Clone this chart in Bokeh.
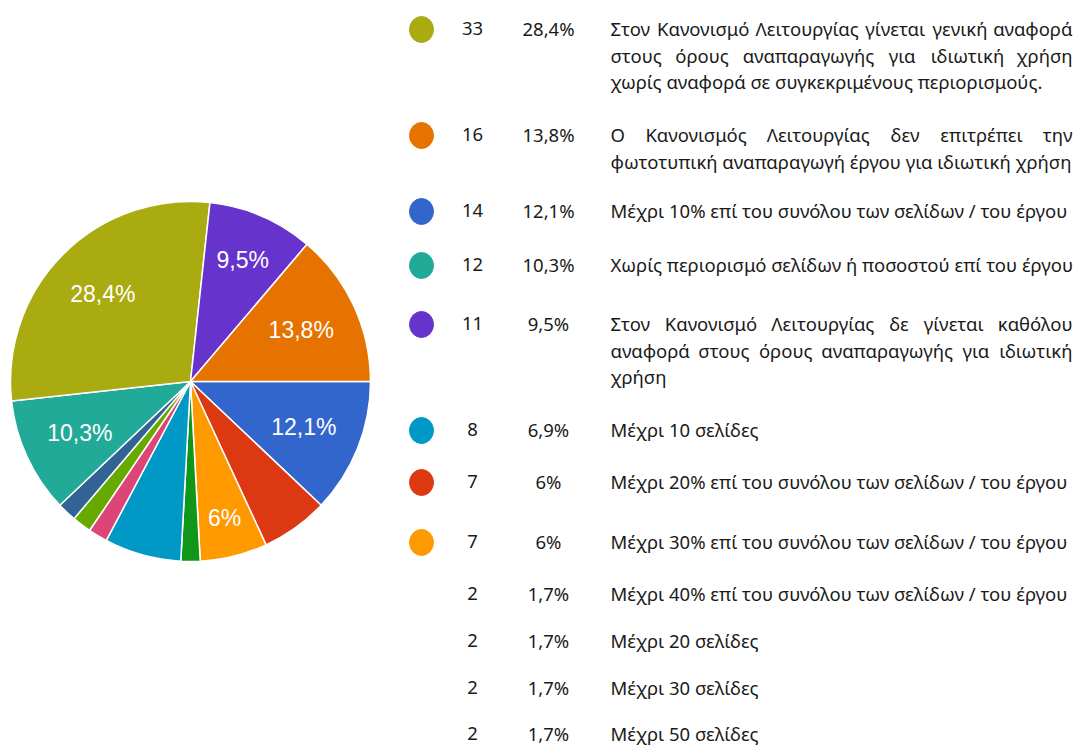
import math
from bokeh.plotting import figure
from bokeh.models import Range1d, ColumnDataSource
from bokeh.core.properties import value
from bokeh.embed import file_html
from bokeh.resources import INLINE

# ---------------- data (form order = pie order, clockwise from 3 o'clock) ----------------
categories = [
    "Μέχρι 10% επί του συνόλου των σελίδων / του έργου",
    "Μέχρι 20% επί του συνόλου των σελίδων / του έργου",
    "Μέχρι 30% επί του συνόλου των σελίδων / του έργου",
    "Μέχρι 40% επί του συνόλου των σελίδων / του έργου",
    "Μέχρι 10 σελίδες",
    "Μέχρι 20 σελίδες",
    "Μέχρι 30 σελίδες",
    "Μέχρι 50 σελίδες",
    "Χωρίς περιορισμό σελίδων ή ποσοστού επί του έργου",
    "Στον Κανονισμό Λειτουργίας γίνεται γενική αναφορά\nστους όρους αναπαραγωγής για ιδιωτική χρήση\nχωρίς αναφορά σε συγκεκριμένους περιορισμούς.",
    "Στον Κανονισμό Λειτουργίας δε γίνεται καθόλου\nαναφορά στους όρους αναπαραγωγής για ιδιωτική\nχρήση",
    "Ο Κανονισμός Λειτουργίας δεν επιτρέπει την\nφωτοτυπική αναπαραγωγή έργου για ιδιωτική χρήση",
]
counts = [14, 7, 7, 2, 8, 2, 2, 2, 12, 33, 11, 16]

# ---------------- styles ----------------
palette = ["#3366CC", "#DC3912", "#FF9900", "#109618", "#0099C6", "#DD4477",
           "#66AA00", "#316395", "#22AA99", "#AAAA11", "#6633CC", "#E67300"]
shown_pie_labels = {0: 122, 2: 141, 8: 122, 9: 124, 10: 132, 11: 122}  # slice -> label radius

W, H = 1075, 745
FONT = "Noto Sans"
FS = 18.5
TXT = "#1a1a1a"

def X(sx):
    return sx

def Y(sy):
    return H - sy

def pct(c, total):
    s = f"{c / total * 100:.1f}"
    s = s.rstrip("0").rstrip(".")
    return s.replace(".", ",") + "%"

total = sum(counts)

p = figure(width=W, height=H, x_range=Range1d(0, W), y_range=Range1d(0, H),
           output_backend="svg", toolbar_location=None, min_border=0,
           x_axis_location=None, y_axis_location=None)
p.grid.visible = False
p.outline_line_color = None
p.background_fill_color = "white"
p.border_fill_color = "white"

# ---------------- pie ----------------
cx, cy, R = X(190), Y(381), 180
starts, ends, lx, ly, ltxt = [], [], [], [], []
acc = 0.0
for i, c in enumerate(counts):
    a0 = acc
    a1 = acc + c / total * 2 * math.pi
    acc = a1
    starts.append(-a1)
    ends.append(-a0)
    if i in shown_pie_labels:
        mid = -(a0 + a1) / 2
        r = shown_pie_labels[i]
        lx.append(cx + r * math.cos(mid))
        ly.append(cy + r * math.sin(mid))
        ltxt.append(pct(c, total))

pie_src = ColumnDataSource(dict(start=starts, end=ends, color=palette))
p.wedge(x=cx, y=cy, radius=R, start_angle="start", end_angle="end",
        direction="anticlock", fill_color="color", line_color="white",
        line_width=1.5, source=pie_src)
p.text(x=lx, y=ly, text=ltxt, text_font=value("Liberation Sans"),
       text_font_size="23px", text_color="white", text_align="center",
       text_baseline="middle")

# ---------------- legend ----------------
order = sorted(range(len(counts)), key=lambda i: -counts[i])
row_y = [28, 134, 210, 264, 323, 429, 481, 541, 593, 640, 687, 733]
LINE_H = 26.5
DOT_X, NUM_X, PCT_X, TX0, TX1 = 421, 472, 548, 610, 1072
N_DOTS = 8

# rough per-character advance widths (em) for justification
CW = {" ": 0.26, "/": 0.37, ".": 0.27, ",": 0.27, "%": 0.82,
      "ι": 0.31, "ί": 0.31, "φ": 0.76, "ω": 0.80, "ώ": 0.80, "ψ": 0.78,
      "μ": 0.61, "π": 0.63, "ε": 0.48, "έ": 0.48, "ς": 0.47, "τ": 0.47,
      "γ": 0.53, "ν": 0.52, "κ": 0.54, "χ": 0.53, "λ": 0.53, "Σ": 0.57,
      "Κ": 0.62, "Λ": 0.60, "Ο": 0.78, "Μ": 0.90, "Χ": 0.58}

def est_em(s):
    return sum(CW.get(ch, 0.58) for ch in s)

# calibration: this line measured 430px wide at 17.5px => 24.57em
_ref = "Μέχρι 10% επί του συνόλου των σελίδων / του έργου"
SCALE = 24.57 / est_em(_ref)

def est_w(s):
    return est_em(s) * SCALE * FS

dots = dict(x=[], y=[], c=[])
nums = dict(x=[], y=[], t=[])
left = dict(x=[], y=[], t=[])
right = dict(x=[], y=[], t=[])
center = dict(x=[], y=[], t=[])

for k, i in enumerate(order):
    sy = row_y[k]
    if k < N_DOTS:
        dots["x"].append(X(DOT_X)); dots["y"].append(Y(sy + 1)); dots["c"].append(palette[i])
    nums["x"] += [X(NUM_X), X(PCT_X)]
    nums["y"] += [Y(sy), Y(sy)]
    nums["t"] += [str(counts[i]), pct(counts[i], total)]
    lines = categories[i].split("\n")
    for j, line in enumerate(lines):
        ly_ = Y(sy + j * LINE_H)
        justify = j < len(lines) - 1
        if not justify:
            left["x"].append(X(TX0)); left["y"].append(ly_); left["t"].append(line)
            continue
        words = line.split(" ")
        ws = [est_w(w) for w in words]
        gap = ((TX1 - TX0) - sum(ws)) / (len(words) - 1)
        xpos = TX0
        for m, (wd, wwid) in enumerate(zip(words, ws)):
            if m == 0:
                left["x"].append(X(xpos)); left["y"].append(ly_); left["t"].append(wd)
            elif m == len(words) - 1:
                right["x"].append(X(TX1)); right["y"].append(ly_); right["t"].append(wd)
            else:
                center["x"].append(X(xpos + wwid / 2)); center["y"].append(ly_); center["t"].append(wd)
            xpos += wwid + gap

p.ellipse(x="x", y="y", width=24, height=26, fill_color="c", line_color="c",
          source=ColumnDataSource(dots))
common = dict(text_font=value(FONT), text_font_size=f"{FS}px", text_color=TXT,
              text_baseline="middle")
p.text(x="x", y="y", text="t", text_align="center", source=ColumnDataSource(nums), **common)
p.text(x="x", y="y", text="t", text_align="left", source=ColumnDataSource(left), **common)
p.text(x="x", y="y", text="t", text_align="right", source=ColumnDataSource(right), **common)
p.text(x="x", y="y", text="t", text_align="center", source=ColumnDataSource(center), **common)

open("out.html", "w").write(file_html(p, INLINE))
